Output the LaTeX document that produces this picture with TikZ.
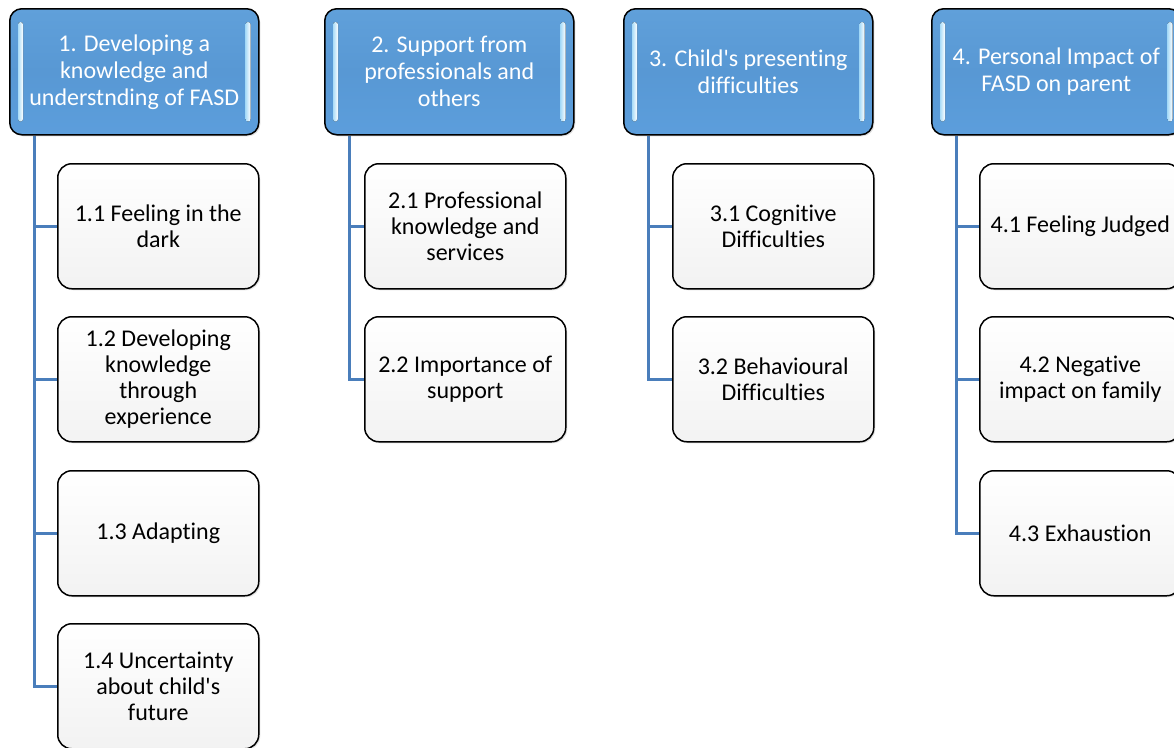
\documentclass[tikz,border=0pt]{standalone}
\usepackage{fontspec}
\setmainfont{Carlito}[Ligatures={TeX,NoCommon}]
\usetikzlibrary{backgrounds,shadows}
\definecolor{hdrtop}{RGB}{96,160,218}
\definecolor{hdrmid}{RGB}{88,152,212}
\definecolor{hdrbot}{RGB}{92,158,220}
\definecolor{linec}{RGB}{74,126,187}
\definecolor{stripc}{RGB}{170,220,248}
\begin{document}
\begin{tikzpicture}[x=1pt,y=-1pt,
  hdr/.style={draw=black, line width=1.5pt, rounded corners=12pt,
    top color=hdrtop, bottom color=hdrbot, middle color=hdrmid,
    text=white, align=center, minimum width=249pt, minimum height=126pt,
    anchor=north west, inner sep=0pt, font=\fontsize{24}{27}\selectfont,
    drop shadow={opacity=0.25, shadow xshift=1.5pt, shadow yshift=-1.5pt}},
  sub/.style={draw=black, line width=1.5pt, rounded corners=14pt,
    top color=white, bottom color=black!5,
    text=black, align=center, minimum width=201pt, minimum height=125pt,
    anchor=north west, inner sep=0pt, font=\fontsize{24}{26}\selectfont,
    drop shadow={opacity=0.2, shadow xshift=1.5pt, shadow yshift=-1.5pt}},
  conn/.style={draw=linec, line width=2.5pt},
  strip/.style={left color=stripc, right color=white, rounded corners=2.5pt}
]
\useasboundingbox (0,0) rectangle (1174,747);

% headers
\node[hdr] (h1) at (9,8) {1. Developing a\\knowledge and\\understnding of FASD};
\node[hdr] (h2) at (324,8) {2. Support from\\professionals and\\others};
\node[hdr] (h3) at (623,8) {3. Child\textquotesingle s presenting\\difficulties};
\node[hdr] (h4) at (931,8) {4. Personal Impact of\\FASD on parent};

% highlight strips
\foreach \h in {h1,h2,h3,h4}{
  \fill[strip] ([xshift=9pt,yshift=-14pt]\h.north west) rectangle ([xshift=14pt,yshift=14pt]\h.south west);
  \fill[strip] ([xshift=-14pt,yshift=-14pt]\h.north east) rectangle ([xshift=-9pt,yshift=14pt]\h.south east);
}

% children
\node[sub] (c11) at (57,163) {1.1 Feeling in the\\dark};
\node[sub] (c12) at (57,316) {1.2 Developing\\knowledge\\through\\experience};
\node[sub] (c13) at (57,470) {1.3 Adapting};
\node[sub] (c14) at (57,623) {1.4 Uncertainty\\about child\textquotesingle s\\future};

\node[sub] (c21) at (364,163) {2.1 Professional\\knowledge and\\services};
\node[sub] (c22) at (364,316) {2.2 Importance of\\support};

\node[sub] (c31) at (672,163) {3.1 Cognitive\\Difficulties};
\node[sub] (c32) at (672,316) {3.2 Behavioural\\Difficulties};

\node[sub] (c41) at (979,163) {4.1 Feeling Judged};
\node[sub] (c42) at (979,316) {4.2 Negative\\impact on family};
\node[sub] (c43) at (979,470) {4.3 Exhaustion};

% connectors
\begin{scope}[on background layer]
\fill[white] (0,0) rectangle (1174,747);
\foreach \h/\c in {h1/c11,h1/c12,h1/c13,h1/c14,h2/c21,h2/c22,h3/c31,h3/c32,h4/c41,h4/c42,h4/c43}{
  \draw[conn] ([xshift=25.5pt]\h.south west) |- (\c.west);
}
\end{scope}
\end{tikzpicture}
\end{document}
